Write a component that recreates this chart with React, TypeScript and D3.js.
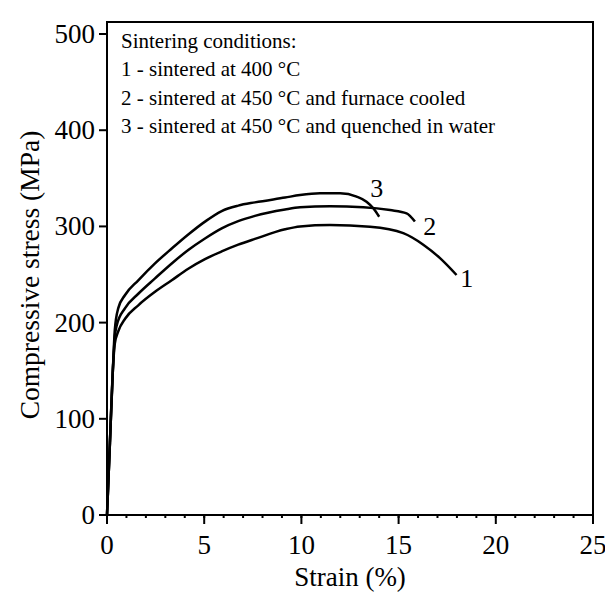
import React from "react";
import * as d3 from "d3";

const strain1 = [0, 0.15, 0.3, 0.4, 0.58, 0.93, 1.61, 2.47, 3.33, 4.18, 5.04, 5.9, 6.75, 7.61, 9.16, 9.93, 11.47, 13.53, 15.24, 16.27, 17.13, 17.98];
const stress1 = [0, 75, 150, 178, 191, 204, 218, 232, 244, 256, 266, 274, 281, 287, 297, 300, 301.5, 299.7, 293, 281, 267, 249.5];

const strain2 = [0, 0.15, 0.3, 0.4, 0.5, 0.93, 1.61, 2.47, 3.33, 4.18, 5.04, 5.9, 6.75, 7.61, 9.16, 9.93, 11.47, 13.19, 14.56, 15.41, 15.84];
const stress2 = [0, 75, 150, 185, 197, 215, 230, 246, 261.5, 275.5, 287.5, 298, 305.5, 311, 317.5, 319.8, 321, 320, 317, 313.6, 305];

const strain3 = [0, 0.15, 0.3, 0.4, 0.58, 0.93, 1.61, 2.47, 3.33, 4.18, 5.04, 5.9, 6.75, 7.61, 9.16, 9.93, 10.96, 11.99, 12.84, 13.35, 13.7, 14.0];
const stress3 = [0, 75, 150, 192, 215, 228.7, 244, 261.6, 277, 291.6, 305, 316, 321.6, 325, 330, 332.6, 334.4, 334.4, 331, 325.7, 318.8, 310];

const curveLabels = ["1", "2", "3"];
const labelStrain = [18.5, 16.6, 13.87];
const labelStress = [246, 301, 340];

const xTicks = [0, 5, 10, 15, 20, 25];
const xMinorTicks = d3.range(0, 26, 1);
const yTicks = [0, 100, 200, 300, 400, 500];

const legendLines = [
  "Sintering conditions:",
  "1 - sintered at 400 °C",
  "2 - sintered at 450 °C and furnace cooled",
  "3 - sintered at 450 °C and quenched in water",
];

const xTitle = "Strain (%)";
const yTitle = "Compressive stress (MPa)";

const FONT = '"Liberation Serif", "DejaVu Serif", "Times New Roman", serif';
const ts = { fontFamily: FONT };

export default function App() {
  const W = 605;
  const H = 594;
  const left = 107;
  const right = 593;
  const top = 22;
  const bottom = 515;

  const x = d3.scaleLinear().domain([0, 25]).range([left, right]);
  const y = d3.scaleLinear().domain([0, 512.5]).range([bottom, top]);

  const line = d3
    .line<[number, number]>()
    .x((d) => x(d[0]))
    .y((d) => y(d[1]))
    .curve(d3.curveMonotoneX);

  const series = [
    strain1.map((s, i) => [s, stress1[i]] as [number, number]),
    strain2.map((s, i) => [s, stress2[i]] as [number, number]),
    strain3.map((s, i) => [s, stress3[i]] as [number, number]),
  ];

  return (
    <svg
      width={W}
      height={H}
      style={{ position: "absolute", left: 0, top: 0, background: "#fff", fontFamily: FONT }}
    >
      <rect x={0} y={0} width={W} height={H} fill="#fff" />
      <rect
        x={left}
        y={top}
        width={right - left}
        height={bottom - top}
        fill="none"
        stroke="#000"
        strokeWidth={2}
      />
      {xMinorTicks.map((t) => (
        <line key={"xm" + t} x1={x(t)} x2={x(t)} y1={bottom} y2={bottom + 3} stroke="#000" strokeWidth={2} />
      ))}
      {xTicks.map((t) => (
        <g key={"x" + t}>
          <line x1={x(t)} x2={x(t)} y1={bottom} y2={bottom + 9} stroke="#000" strokeWidth={2} />
          <text x={x(t)} y={554} textAnchor="middle" fontSize={27} fill="#000" style={ts}>
            {t}
          </text>
        </g>
      ))}
      {yTicks.map((t) => (
        <g key={"y" + t}>
          <line x1={left - 8} x2={left} y1={y(t)} y2={y(t)} stroke="#000" strokeWidth={2} />
          <text x={95} y={y(t)} dy="0.33em" textAnchor="end" fontSize={27} fill="#000" style={ts}>
            {t}
          </text>
        </g>
      ))}
      <text x={(left + right) / 2} y={586} textAnchor="middle" fontSize={27} fill="#000" style={ts}>
        {xTitle}
      </text>
      <text
        transform={`translate(30, 275) rotate(-90)`}
        textAnchor="middle"
        dy="0.33em"
        fontSize={27.5}
        fill="#000"
        style={ts}
      >
        {yTitle}
      </text>
      {series.map((d, i) => (
        <path key={"c" + i} d={line(d) || ""} fill="none" stroke="#000" strokeWidth={2.5} strokeLinejoin="round" />
      ))}
      {curveLabels.map((l, i) => (
        <text
          key={"l" + i}
          x={x(labelStrain[i])}
          y={y(labelStress[i])}
          dy="0.35em"
          textAnchor="middle"
          fontSize={26}
          fill="#000"
          style={ts}
        >
          {l}
        </text>
      ))}
      {legendLines.map((l, i) => (
        <text key={"lg" + i} x={121} y={47.5 + i * 28.6} fontSize={21} fill="#000" style={ts}>
          {l}
        </text>
      ))}
    </svg>
  );
}
